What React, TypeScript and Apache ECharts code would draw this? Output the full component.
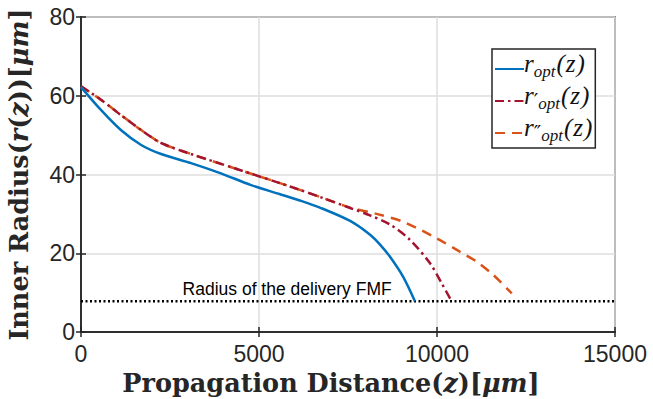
import React, { useEffect, useRef } from "react";
import * as echarts from "echarts";

const xTicks = [0, 5000, 10000, 15000];
const yTicks = [0, 20, 40, 60, 80];

const zOpt = [0, 560, 1120, 1690, 2250, 3090, 3930, 4780, 5590, 6150, 6710, 7560, 8120, 8400, 8680, 9050, 9380];
const rOpt = [62.2, 56.4, 51.3, 47.5, 45.2, 42.9, 40.3, 37.3, 35.0, 33.4, 31.6, 28.2, 24.7, 22.2, 19.1, 14.0, 7.8];

const zOpt1 = [0, 560, 1120, 1690, 2250, 3090, 3930, 4780, 5590, 6150, 6710, 7560, 8120, 8680, 9240, 9800, 10130, 10410];
const rOpt1 = [62.4, 59.0, 55.1, 51.3, 48.0, 45.2, 42.7, 40.2, 37.8, 36.1, 34.3, 31.5, 29.6, 27.3, 23.4, 17.5, 12.4, 7.8];

const zOpt2 = [0, 560, 1120, 1690, 2250, 3090, 3930, 4780, 5590, 6150, 6710, 7560, 8300, 9050, 9990, 10640, 11110, 11580, 12100];
const rOpt2 = [62.4, 59.0, 55.1, 51.3, 48.0, 45.2, 42.7, 40.2, 37.8, 36.1, 34.3, 31.6, 30.0, 28.0, 23.8, 20.4, 17.9, 14.5, 9.8];

const fmfRadius = 7.8;
const fmfZ = [0, 5790, 15000];
const fmfLabel = "Radius of the delivery FMF";

const seriesNames = ["r_opt(z)", "r'_opt(z)", "r''_opt(z)"];
const legendRich: Record<string, string> = {
  "r_opt(z)": "{r|r}{s|opt}{r|(}{z|z}{r|)}",
  "r'_opt(z)": "{r|r}{p|′}{s|opt}{r|(}{z|z}{r|)}",
  "r''_opt(z)": "{r|r}{p|″}{s|opt}{r|(}{z|z}{r|)}",
};

const axisColor = "#262626";
const gridColor = "#dedede";
const serif = "'DejaVu Serif', 'Liberation Serif', serif";
const legSerif = "'Liberation Serif', 'DejaVu Serif', serif";
const sans = "'Liberation Sans', Arial, Helvetica, sans-serif";

function pairs(xs: number[], ys: number[]) {
  return xs.map((x, i) => [x, ys[i]]);
}

export default function App() {
  const ref = useRef<HTMLDivElement>(null);
  useEffect(() => {
    if (!ref.current) return;
    const chart = echarts.init(ref.current, null, { renderer: "svg" });
    const nameRich = {
      b: { fontFamily: serif, fontWeight: "bold", fontSize: 25.5, color: axisColor },
      i: { fontFamily: serif, fontWeight: "bold", fontStyle: "italic", fontSize: 25.5, color: axisColor },
    };
    const legText = "#111";
    chart.setOption({
      animation: false,
      grid: {
        left: 81,
        right: 38,
        top: 17,
        bottom: 67,
        outerBoundsMode: "none",
        containLabel: false,
        show: true,
        borderColor: axisColor,
        borderWidth: 1.5,
        backgroundColor: "transparent",
      },
      legend: {
        data: seriesNames,
        orient: "vertical",
        left: 492,
        top: 49,
        itemWidth: 29,
        itemHeight: 14,
        itemGap: 2,
        padding: [2, 3, 3, 2],
        borderColor: axisColor,
        borderWidth: 1.5,
        backgroundColor: "#fff",
        itemStyle: { opacity: 0 },
        formatter: (name: string) => legendRich[name],
        textStyle: {
          padding: [0, 0, 0, -5],
          rich: {
            r: { fontFamily: legSerif, fontStyle: "italic", fontSize: 25, color: legText, lineHeight: 24, verticalAlign: "bottom", padding: [0, 0, 5, 0] },
            z: { fontFamily: legSerif, fontStyle: "italic", fontSize: 25, color: legText, lineHeight: 24, verticalAlign: "bottom", padding: [0, 1, 5, 1] },
            s: { fontFamily: legSerif, fontStyle: "italic", fontSize: 17, color: legText, lineHeight: 17, verticalAlign: "bottom", padding: [0, 1, 1, 0] },
            p: { fontFamily: "'DejaVu Sans', sans-serif", fontSize: 20, color: legText, lineHeight: 16, verticalAlign: "top", padding: [1, 0, 0, 0] },
          },
        },
      },
      xAxis: [
        {
          type: "value",
          min: 0,
          max: 15000,
          interval: 5000,
          name: "{b|Propagation Distance(}{i|z}{b|)[}{i|μm}{b|]}",
          nameLocation: "middle",
          nameGap: 34,
          nameTextStyle: { rich: nameRich, padding: [0, 34, 0, 0] },
          axisLine: { show: true, lineStyle: { color: axisColor, width: 1.5 } },
          axisTick: { show: true, inside: true, length: 5, lineStyle: { color: axisColor, width: 1.5 } },
          axisLabel: {
            fontFamily: sans,
            fontSize: 23,
            color: axisColor,
            margin: 10,
            formatter: (v: number) => (xTicks.includes(v) ? String(v) : ""),
          },
          splitLine: { show: true, lineStyle: { color: gridColor, width: 1.5 } },
        },
        {
          type: "value",
          position: "top",
          min: 0,
          max: 15000,
          interval: 5000,
          axisLine: { show: true, lineStyle: { color: axisColor, width: 1.5 } },
          axisTick: { show: true, inside: true, length: 5, lineStyle: { color: axisColor, width: 1.5 } },
          axisLabel: { show: false },
          splitLine: { show: false },
        },
      ],
      yAxis: [
        {
          type: "value",
          min: 0,
          max: 80,
          interval: 20,
          name: "{b|Inner Radius(}{i|r}{b|(}{i|z}{b|))[}{i|μm}{b|]}",
          nameLocation: "middle",
          nameGap: 49,
          nameTextStyle: { rich: nameRich },
          axisLine: { show: true, lineStyle: { color: axisColor, width: 1.5 } },
          axisTick: { show: true, inside: true, length: 5, lineStyle: { color: axisColor, width: 1.5 } },
          axisLabel: {
            fontFamily: sans,
            fontSize: 23,
            color: axisColor,
            margin: 6,
            formatter: (v: number) => (yTicks.includes(v) ? String(v) : ""),
          },
          splitLine: { show: true, lineStyle: { color: gridColor, width: 1.5 } },
        },
        {
          type: "value",
          position: "right",
          min: 0,
          max: 80,
          interval: 20,
          axisLine: { show: true, lineStyle: { color: axisColor, width: 1.5 } },
          axisTick: { show: true, inside: true, length: 5, lineStyle: { color: axisColor, width: 1.5 } },
          axisLabel: { show: false },
          splitLine: { show: false },
        },
      ],
      series: [
        {
          name: "FMF",
          type: "line",
          data: fmfZ.map((z, i) =>
            i === 1
              ? {
                  value: [z, fmfRadius],
                  symbol: "circle",
                  symbolSize: 1,
                  itemStyle: { color: "transparent" },
                  label: {
                    show: true,
                    position: "top",
                    distance: 3,
                    formatter: fmfLabel,
                    fontFamily: sans,
                    fontSize: 17.5,
                    color: "#000",
                  },
                }
              : { value: [z, fmfRadius] }
          ),
          symbol: "none",
          lineStyle: { color: "#000", width: 2.5, type: [2, 2.5] },
          z: 1,
        },
        {
          name: seriesNames[2],
          type: "line",
          data: pairs(zOpt2, rOpt2),
          symbol: "none",
          smooth: 0.3,
          color: "#D95319",
          lineStyle: { color: "#D95319", width: 2.5, type: [10, 7] },
          z: 3,
        },
        {
          name: seriesNames[1],
          type: "line",
          data: pairs(zOpt1, rOpt1),
          symbol: "none",
          smooth: 0.3,
          color: "#A2142F",
          lineStyle: { color: "#A2142F", width: 2.5, type: [9, 4, 2.5, 4] },
          z: 4,
        },
        {
          name: seriesNames[0],
          type: "line",
          data: pairs(zOpt, rOpt),
          symbol: "none",
          smooth: 0.3,
          color: "#0072BD",
          lineStyle: { color: "#0072BD", width: 2.5 },
          z: 5,
        },
      ],
    });
    return () => chart.dispose();
  }, []);
  return (
    <div
      ref={ref}
      style={{ position: "absolute", left: 0, top: 0, width: 653, height: 399, background: "#fff" }}
    />
  );
}
